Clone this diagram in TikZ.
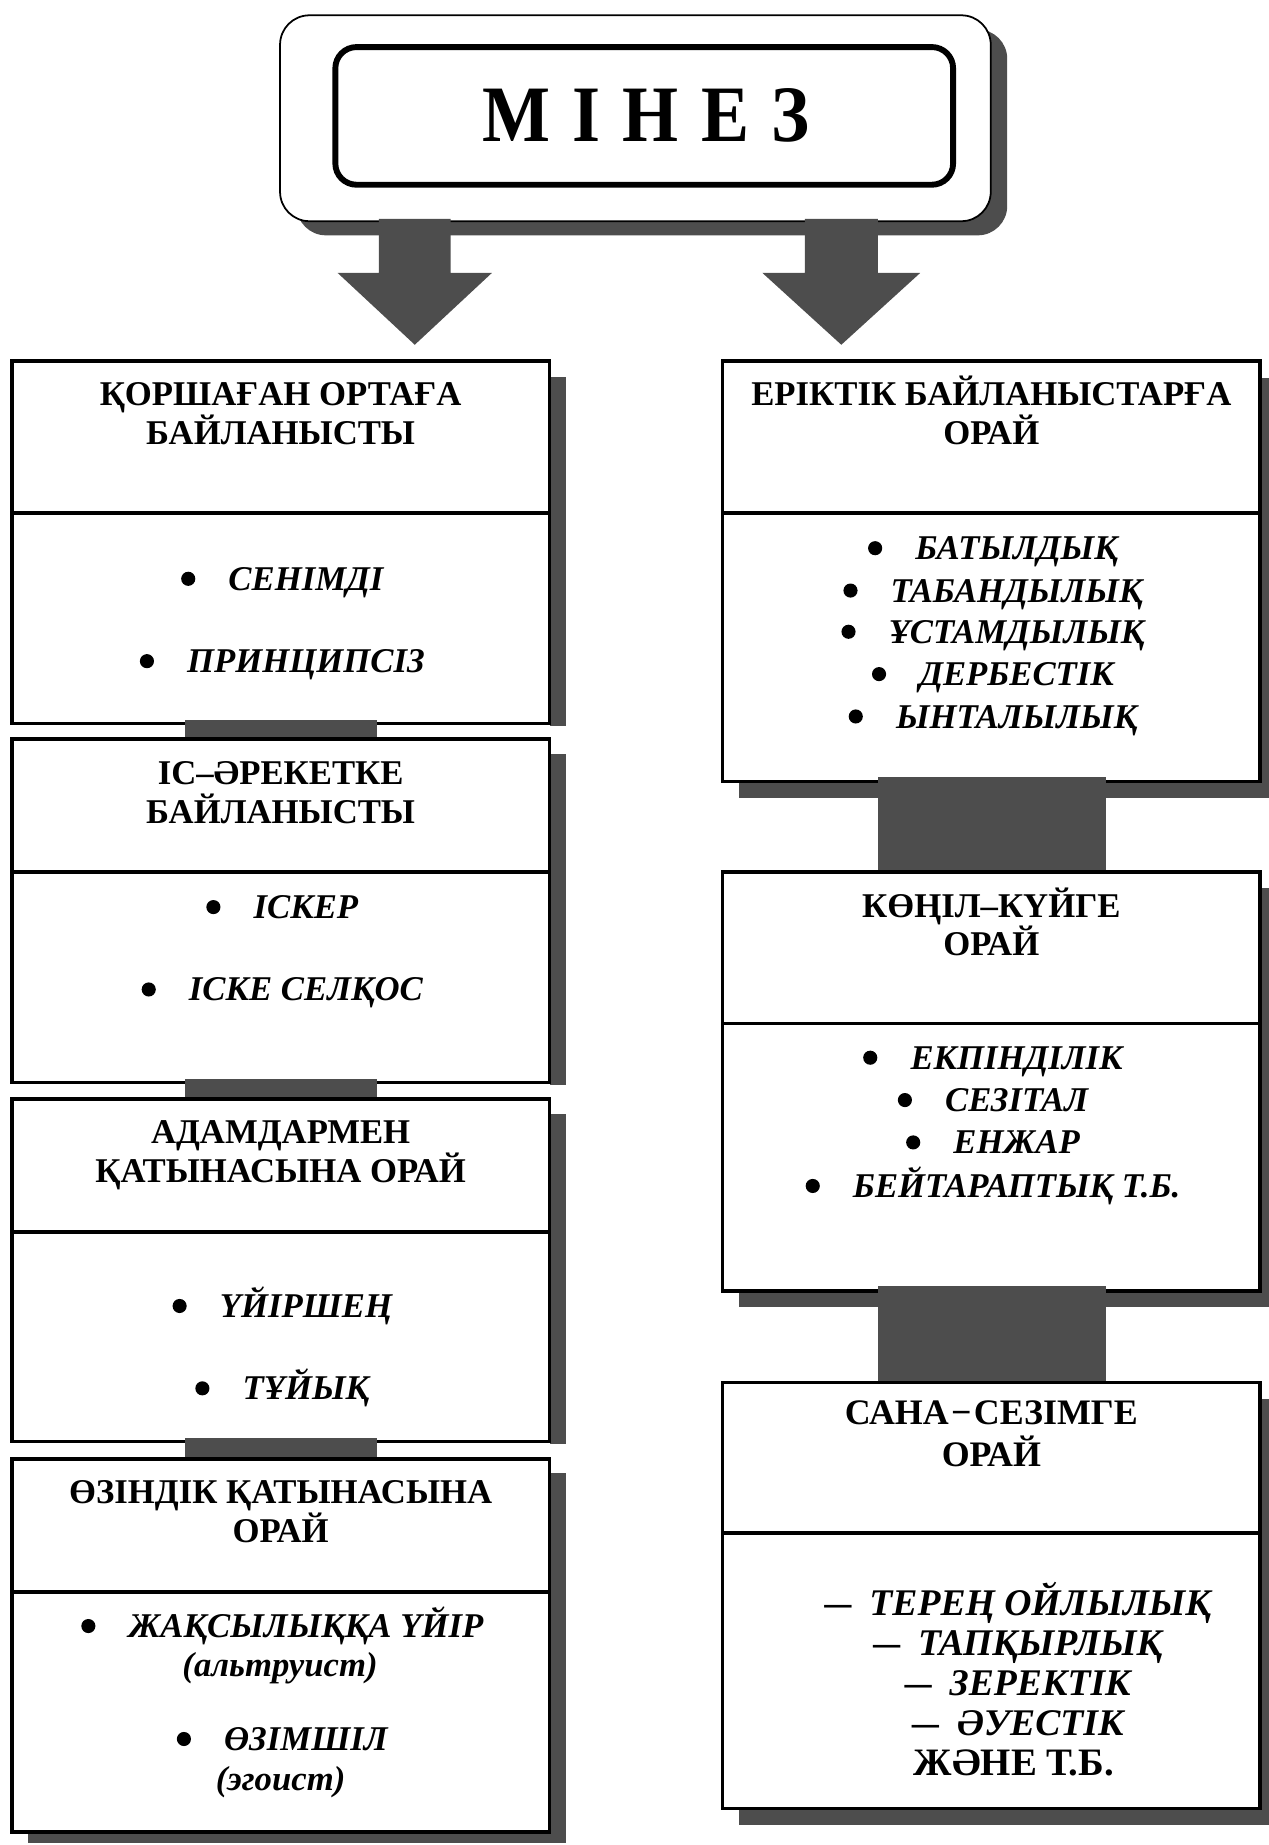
\documentclass[tikz,border=0pt]{standalone}
\usepackage{fontspec}
\setmainfont{Liberation Serif}
\usetikzlibrary{calc,backgrounds}
\definecolor{shadowgray}{RGB}{77,77,77}
\newcommand\mydash[1]{\scalebox{0.72}[1]{—}\hspace{15pt}#1}
% bulleted item: name, line centre x, baseline y, text
\newcommand\myitem[4]{%
  \node[itm, xshift=20pt] (#1) at (#2,#3) {#4};
  \fill ($(#1.base west)+(-34,-9.8)$) circle (6pt);
}
\begin{document}
\begin{tikzpicture}[x=1pt,y=-1pt,
  box/.style={draw, line width=3pt, fill=white, inner sep=0pt, outer sep=0pt, minimum width=457pt},
  shd/.style={fill=shadowgray},
  ttl/.style={anchor=base, inner sep=0pt, font=\fontsize{29.5}{33}\selectfont\bfseries},
  itm/.style={anchor=base, inner sep=0pt, font=\fontsize{29.5}{34}\selectfont\bfseries\itshape},
  itmb/.style={anchor=base, inner sep=0pt, font=\fontsize{32}{34}\selectfont\bfseries\itshape},
  divline/.style={line width=3pt}
]
\useasboundingbox (0,0) rectangle (1078,1568);

% ---------- top box ----------
\node[draw, line width=1.5pt, fill=white, rounded corners=25pt, minimum width=604pt, minimum height=175pt, inner sep=0pt, outer sep=0pt] (top) at (540,100.5) {};
\node[draw, line width=5pt, rounded corners=18pt, minimum width=525pt, minimum height=117pt, inner sep=0pt, outer sep=0pt] (inner) at (547.5,98.5) {};
\node[anchor=base, inner sep=0pt, font=\fontsize{68}{68}\selectfont\bfseries] (title) at (549,120) {\scalebox{0.9}[1]{М\hspace{21pt}І\hspace{21pt}Н\hspace{21pt}Е\hspace{21pt}З}};

% ---------- boxes ----------
\node[box, minimum height=308pt] (L1) at (238.5,461) {};
\node[box, minimum height=292pt] (L2) at (238.5,774) {};
\node[box, minimum height=291pt] (L3) at (238.5,1079.5) {};
\node[box, minimum height=317pt] (L4) at (238.5,1398.5) {};
\node[box, minimum height=357pt] (R1) at (842.5,485.5) {};
\node[box, minimum height=356pt] (R2) at (842.5,919) {};
\node[box, minimum height=362pt] (R3) at (842.5,1356) {};

% dividers
\draw[divline] (L1.west |- 0,436) -- (L1.east |- 0,436);
\draw[divline] (L2.west |- 0,741) -- (L2.east |- 0,741);
\draw[divline] (L3.west |- 0,1047) -- (L3.east |- 0,1047);
\draw[divline] (L4.west |- 0,1353) -- (L4.east |- 0,1353);
\draw[divline] (R1.west |- 0,436) -- (R1.east |- 0,436);
\draw[divline] (R2.west |- 0,870) -- (R2.east |- 0,870);
\draw[divline] (R3.west |- 0,1303) -- (R3.east |- 0,1303);

% shadows
\begin{scope}[on background layer]
  \fill[shd, rounded corners=25pt] ($(top.north west)+(14,12)$) rectangle ($(top.south east)+(14,12)$);
  \fill[shd] ($(L1.north east)+(0,13)$) rectangle ($(L1.south east)+(14,2)$);
  \fill[shd] ($(L2.north east)+(0,13)$) rectangle ($(L2.south east)+(14,2)$);
  \fill[shd] ($(L3.north east)+(0,13)$) rectangle ($(L3.south east)+(14,2)$);
  \fill[shd] ($(L4.north west)+(14,12)$) rectangle ($(L4.south east)+(14,9)$);
  \fill[shd] ($(R1.north west)+(14,14)$) rectangle ($(R1.south east)+(14,14)$);
  \fill[shd] ($(R2.north west)+(14,14)$) rectangle ($(R2.south east)+(14,14)$);
  \fill[shd] ($(R3.north west)+(14,14)$) rectangle ($(R3.south east)+(14,14)$);
\end{scope}

% connector bars
\fill[shd] ($(L1.south)+(-81.5,-3)$) rectangle ($(L2.north)+(81.5,-1.5)$);
\fill[shd] ($(L2.south)+(-81.5,-3)$) rectangle ($(L3.north)+(81.5,-1.5)$);
\fill[shd] ($(L3.south)+(-81.5,-3)$) rectangle ($(L4.north)+(81.5,-1.5)$);
\fill[shd] ($(R1.south)+(-96.5,-4)$) rectangle ($(R2.north)+(97.5,-1.5)$);
\fill[shd] ($(R2.south)+(-96.5,-4)$) rectangle ($(R3.north)+(97.5,-1.5)$);

% block arrows
\coordinate (aL) at ($(top.south west)+(114.5,-2)$);
\coordinate (aLtip) at ($(L1.north)+(114,-14)$);
\fill[shd] ($(aL)+(-30.5,0)$) -- ($(aL)+(-30.5,46)$) -- ($(aL)+(-65.5,46)$) -- (aLtip)
  -- ($(aL)+(65.5,46)$) -- ($(aL)+(30.5,46)$) -- ($(aL)+(30.5,0)$) -- cycle;
\coordinate (aR) at ($(top.south west)+(477,-2)$);
\coordinate (aRtip) at ($(R1.north)+(-127.5,-14)$);
\fill[shd] ($(aR)+(-31,0)$) -- ($(aR)+(-31,46)$) -- ($(aR)+(-67,46)$) -- (aRtip)
  -- ($(aR)+(67,46)$) -- ($(aR)+(31,46)$) -- ($(aR)+(31,0)$) -- cycle;

% ---------- texts left ----------
\node[ttl] (L1t1) at (238.5,344.8) {ҚОРШАҒАН ОРТАҒА};
\node[ttl] (L1t2) at (238.5,377.8) {БАЙЛАНЫСТЫ};
\myitem{L1i1}{240}{501.7}{СЕНІМДІ}
\myitem{L1i2}{240}{571.7}{ПРИНЦИПСІЗ}

\node[ttl] (L2t1) at (238.5,666.8) {ІС–ӘРЕКЕТКЕ};
\node[ttl] (L2t2) at (238.5,699.8) {БАЙЛАНЫСТЫ};
\myitem{L2i1}{240}{780.7}{ІСКЕР}
\myitem{L2i2}{240}{850.7}{ІСКЕ СЕЛҚОС}

\node[ttl] (L3t1) at (238.5,971.8) {АДАМДАРМЕН};
\node[ttl] (L3t2) at (238.5,1004.8) {ҚАТЫНАСЫНА ОРАЙ};
\myitem{L3i1}{240}{1119.7}{ҮЙІРШЕҢ}
\myitem{L3i2}{240}{1189.7}{ТҰЙЫҚ}

\node[ttl] (L4t1) at (238.5,1277.8) {ӨЗІНДІК ҚАТЫНАСЫНА};
\node[ttl] (L4t2) at (238.5,1310.8) {ОРАЙ};
\myitem{L4i1}{240}{1391.7}{ЖАҚСЫЛЫҚҚА ҮЙІР}
\node[itm] (L4i1b) at (238,1425) {(альтруист)};
\myitem{L4i2}{240}{1487.7}{ӨЗІМШІЛ}
\node[itm] (L4i2b) at (238.5,1522) {(эгоист)};

% ---------- texts right ----------
\node[ttl] (R1t1) at (842.5,344.8) {ЕРІКТІК БАЙЛАНЫСТАРҒА};
\node[ttl] (R1t2) at (842.5,377.8) {ОРАЙ};
\myitem{R1i1}{844}{475.7}{БАТЫЛДЫҚ}
\myitem{R1i2}{844}{511.7}{ТАБАНДЫЛЫҚ}
\myitem{R1i3}{844}{546.7}{ҰСТАМДЫЛЫҚ}
\myitem{R1i4}{844}{582.7}{ДЕРБЕСТІК}
\myitem{R1i5}{844}{618.7}{ЫНТАЛЫЛЫҚ}

\node[ttl] (R2t1) at (842.5,779.8) {КӨҢІЛ–КҮЙГЕ};
\node[ttl] (R2t2) at (842.5,811.8) {ОРАЙ};
\myitem{R2i1}{844}{908.7}{ЕКПІНДІЛІК}
\myitem{R2i2}{844}{944.7}{СЕЗІТАЛ}
\myitem{R2i3}{844}{980.7}{ЕНЖАР}
\myitem{R2i4}{844}{1017.7}{БЕЙТАРАПТЫҚ Т.Б.}

\node[ttl, font=\fontsize{30.5}{33}\selectfont\bfseries] (R3t1) at (842.5,1211) {САНА\hspace{2pt}−\hspace{2pt}СЕЗІМГЕ};
\node[ttl, font=\fontsize{30.5}{33}\selectfont\bfseries] (R3t2) at (842.5,1246) {ОРАЙ};
\node[itmb] (R3i1) at (865,1372.6) {\mydash{ТЕРЕҢ ОЙЛЫЛЫҚ}};
\node[itmb] (R3i2) at (865,1406.6) {\mydash{ТАПҚЫРЛЫҚ}};
\node[itmb] (R3i3) at (865,1440.6) {\mydash{ЗЕРЕКТІК}};
\node[itmb] (R3i4) at (865,1474.6) {\mydash{ӘУЕСТІК}};
\node[ttl, font=\fontsize{33}{34}\selectfont\bfseries] (R3i5) at (861.5,1509) {ЖӘНЕ Т.Б.};
\end{tikzpicture}
\end{document}
